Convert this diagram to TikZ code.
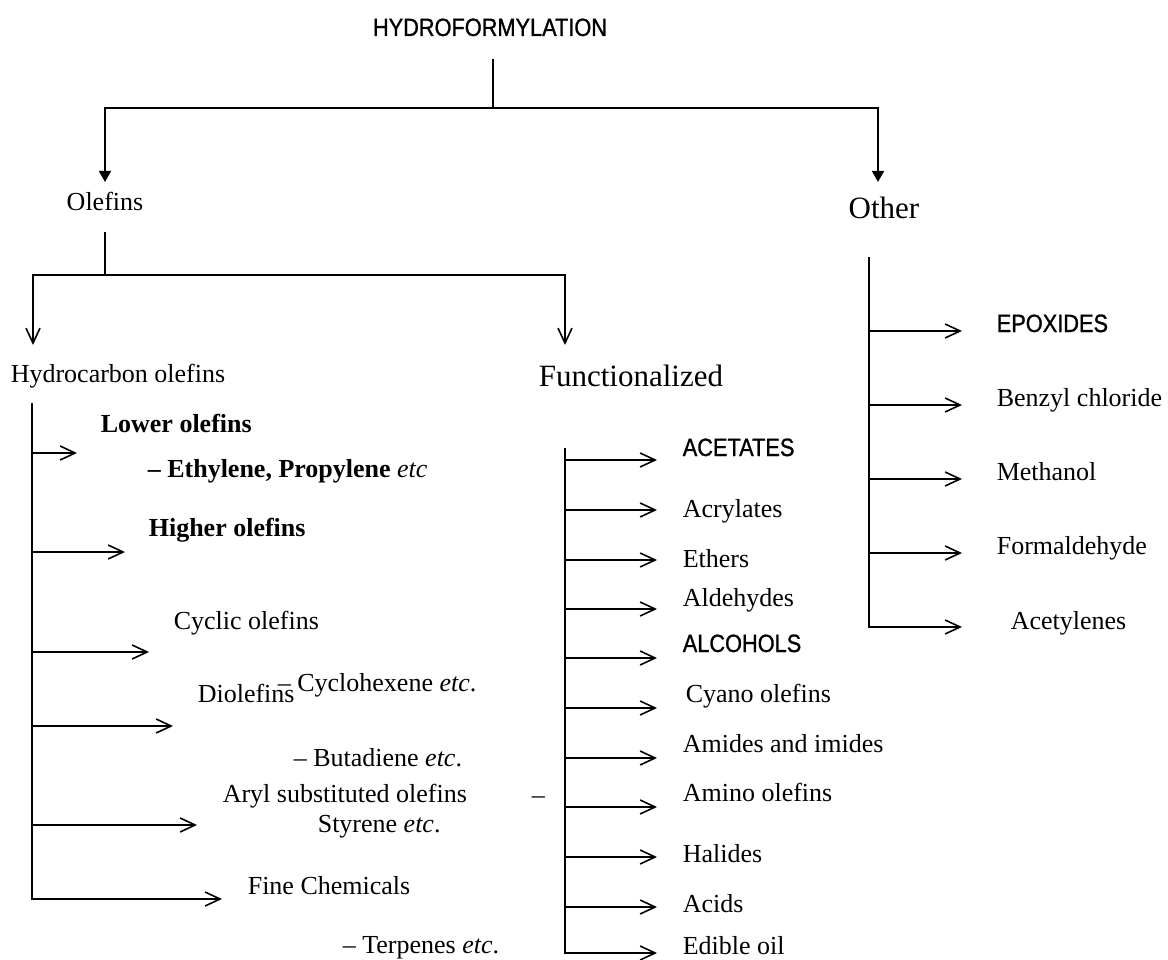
\documentclass[tikz,border=0pt]{standalone}
\usepackage{fontspec}
\setmainfont{Liberation Serif}
\newfontfamily\capsf[FakeStretch=0.87,FakeBold=1]{Liberation Sans}
\usetikzlibrary{arrows.meta}
\begin{document}
\begin{tikzpicture}[x=1pt,y=-1pt,
  line width=1.6pt,
  solid arrow/.style={-{Triangle[length=11pt,width=12pt]}},
  open arrow/.style={-{Straight Barb[length=15pt,width=14pt,line width=1.6pt]}},
  lbl/.style={anchor=base west,inner sep=0pt,font=\fontsize{26}{30}\selectfont},
  big/.style={anchor=base west,inner sep=0pt,font=\fontsize{31}{36}\selectfont},
  caps/.style={anchor=base west,inner sep=0pt,font=\capsf\fontsize{25}{30}\selectfont},
]
\useasboundingbox (0,0) rectangle (1168,960);

% ---- top level
\node[caps,anchor=base] (title) at (490,36) {HYDROFORMYLATION};
\coordinate (tTop) at (493,59);
\coordinate (tJ) at (493,108);
\coordinate (olefTip) at (105,182);
\coordinate (othTip) at (878,182);
\draw (tTop) -- (tJ);
\draw[solid arrow] (tJ) -| (olefTip);
\draw[solid arrow] (tJ) -| (othTip);

\node[lbl,anchor=base] (olef) at (105,211) {Olefins};
\node[big,anchor=base] (other) at (884,219) {Other};

% ---- olefins split
\coordinate (oTop) at (105,232);
\coordinate (oJ) at (105,275);
\coordinate (hcTip) at (33,345);
\coordinate (fnTip) at (565,345);
\draw (oTop) -- (oJ);
\draw[open arrow] (oJ) -| (hcTip);
\draw[open arrow] (oJ) -| (fnTip);

\node[lbl] (hc) at (10,382) {Hydrocarbon olefins};
\node[big] (fn) at (538,386) {Functionalized};

% ---- hydrocarbon olefins spine
\coordinate (lTop) at (32,403);
\coordinate (lt6) at (222,899);
\draw[open arrow] (lTop) |- (lt6);
\foreach \i/\y/\x in {1/453/77,2/552/125,3/652/149,4/726/173,5/825/197}{
  \coordinate (ls\i) at (32,\y);
  \coordinate (lt\i) at (\x,\y);
  \draw[open arrow] (ls\i) -- (lt\i);
}
\node[lbl] (lower) at (100,432) {\textbf{Lower olefins}};
\node[lbl] (ethyl) at (147,477) {\textbf{– Ethylene, Propylene} \textit{etc}};
\node[lbl] (higher) at (148,536) {\textbf{Higher olefins}};
\node[lbl] (cyclic) at (173,629) {Cyclic olefins};
\node[lbl] (diol) at (197,702) {Diolefins};
\node[lbl] (cyclohex) at (277,691) {– Cyclohexene \textit{etc}.};
\node[lbl] (butad) at (293,766) {– Butadiene \textit{etc}.};
\node[lbl] (aryl) at (222,802) {Aryl substituted olefins};
\node[lbl] (styr) at (317,832) {Styrene \textit{etc}.};
\node[lbl] (fine) at (247,894) {Fine Chemicals};
\node[lbl] (terp) at (342,953) {– Terpenes \textit{etc}.};

% ---- functionalized spine
\coordinate (mTop) at (565,448);
\coordinate (mt11) at (657,953);
\draw[open arrow] (mTop) |- (mt11);
\foreach \i/\y in {1/460,2/510,3/560,4/609,5/658,6/708,7/758,8/807,9/857,10/907}{
  \coordinate (ms\i) at (565,\y);
  \coordinate (mt\i) at (657,\y);
  \draw[open arrow] (ms\i) -- (mt\i);
}
\node[caps] (acet) at (682,456) {ACETATES};
\node[lbl] (acryl) at (682,517) {Acrylates};
\node[lbl] (ether) at (682,567) {Ethers};
\node[lbl] (aldeh) at (682,606) {Aldehydes};
\node[caps] (alco) at (682,652) {ALCOHOLS};
\node[lbl] (cyano) at (685,702) {Cyano olefins};
\node[lbl] (amide) at (682,752) {Amides and imides};
\node[lbl] (amino) at (682,801) {Amino olefins};
\node[lbl] (halid) at (682,862) {Halides};
\node[lbl] (acid) at (682,912) {Acids};
\node[lbl] (edib) at (682,954) {Edible oil};
\node[lbl] (dash) at (531,803) {–};

% ---- other spine
\coordinate (rTop) at (869,257);
\coordinate (rt5) at (962,627);
\draw[open arrow] (rTop) |- (rt5);
\foreach \i/\y in {1/331,2/405,3/479,4/553}{
  \coordinate (rs\i) at (869,\y);
  \coordinate (rt\i) at (962,\y);
  \draw[open arrow] (rs\i) -- (rt\i);
}
\node[caps] (epox) at (996,332) {EPOXIDES};
\node[lbl] (benz) at (996,406) {Benzyl chloride};
\node[lbl] (meth) at (996,480) {Methanol};
\node[lbl] (form) at (996,554) {Formaldehyde};
\node[lbl] (acet2) at (1010,629) {Acetylenes};
\end{tikzpicture}
\end{document}
